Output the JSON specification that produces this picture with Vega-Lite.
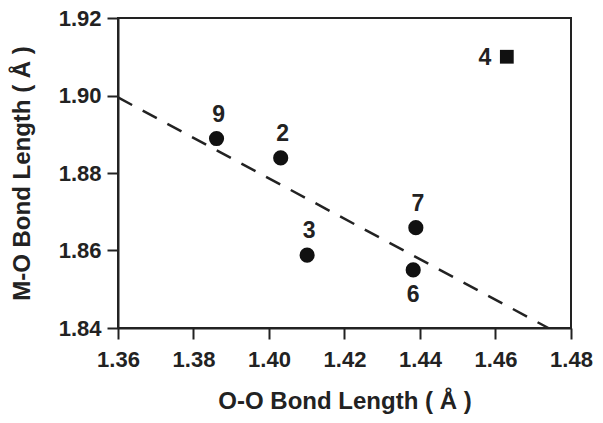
{
  "$schema": "https://vega.github.io/schema/vega-lite/v6.json",
  "autosize": "none",
  "width": 453,
  "height": 310,
  "padding": {"left": 118, "top": 18, "right": 32, "bottom": 95},
  "background": "white",
  "config": {
    "view": {"stroke": "#222", "strokeWidth": 2},
    "font": "Liberation Sans",
    "axis": {
      "domainColor": "#222", "domainWidth": 2,
      "tickColor": "#222", "tickWidth": 2, "tickSize": 11,
      "labelFont": "Liberation Sans", "labelFontWeight": "bold", "labelFontSize": 22, "labelColor": "#222",
      "labelFlush": false, "labelOverlap": false,
      "titleFont": "Liberation Sans", "titleFontWeight": "bold", "titleFontSize": 24, "titleColor": "#222",
      "grid": false
    }
  },
  "datasets": {
    "points": [
      {"label": "9", "oo": 1.3861, "mo": 1.8889, "kind": "circle", "pos": "above"},
      {"label": "2", "oo": 1.4031, "mo": 1.8839, "kind": "circle", "pos": "above"},
      {"label": "3", "oo": 1.4101, "mo": 1.8588, "kind": "circle", "pos": "above"},
      {"label": "7", "oo": 1.4389, "mo": 1.8659, "kind": "circle", "pos": "above"},
      {"label": "6", "oo": 1.4382, "mo": 1.8550, "kind": "circle", "pos": "below"},
      {"label": "4", "oo": 1.4630, "mo": 1.9100, "kind": "square", "pos": "left"}
    ],
    "fit": [
      {"oo": 1.36, "mo": 1.8995},
      {"oo": 1.4740, "mo": 1.84}
    ]
  },
  "layer": [
    {
      "data": {"name": "fit"},
      "mark": {"type": "line", "color": "#222", "strokeWidth": 2.5, "strokeDash": [16, 12]},
      "encoding": {
        "x": {"field": "oo", "type": "quantitative", "scale": {"domain": [1.36, 1.48], "nice": false, "zero": false},
              "axis": {"values": [1.36, 1.38, 1.40, 1.42, 1.44, 1.46, 1.48], "format": ".2f", "title": "O-O Bond Length ( Å )", "labelPadding": 10, "titlePadding": 19}},
        "y": {"field": "mo", "type": "quantitative", "scale": {"domain": [1.84, 1.92], "nice": false, "zero": false},
              "axis": {"values": [1.84, 1.86, 1.88, 1.90, 1.92], "format": ".2f", "title": "M-O Bond Length ( Å )", "labelPadding": 6, "titlePadding": 24}}
      }
    },
    {
      "data": {"name": "points"},
      "transform": [{"filter": "datum.kind === 'circle'"}],
      "mark": {"type": "point", "shape": "circle", "filled": true, "color": "#111", "opacity": 1, "size": 230},
      "encoding": {
        "x": {"field": "oo", "type": "quantitative"},
        "y": {"field": "mo", "type": "quantitative"}
      }
    },
    {
      "data": {"name": "points"},
      "transform": [{"filter": "datum.kind === 'square'"}],
      "mark": {"type": "point", "shape": "square", "filled": true, "color": "#111", "opacity": 1, "size": 190},
      "encoding": {
        "x": {"field": "oo", "type": "quantitative"},
        "y": {"field": "mo", "type": "quantitative"}
      }
    },
    {
      "data": {"name": "points"},
      "transform": [{"filter": "datum.pos === 'above'"}],
      "mark": {"type": "text", "fontSize": 23, "fontWeight": "bold", "color": "#222", "dy": -24, "dx": 2},
      "encoding": {
        "x": {"field": "oo", "type": "quantitative"},
        "y": {"field": "mo", "type": "quantitative"},
        "text": {"field": "label"}
      }
    },
    {
      "data": {"name": "points"},
      "transform": [{"filter": "datum.pos === 'below'"}],
      "mark": {"type": "text", "fontSize": 23, "fontWeight": "bold", "color": "#222", "dy": 25, "dx": 0},
      "encoding": {
        "x": {"field": "oo", "type": "quantitative"},
        "y": {"field": "mo", "type": "quantitative"},
        "text": {"field": "label"}
      }
    },
    {
      "data": {"name": "points"},
      "transform": [{"filter": "datum.pos === 'left'"}],
      "mark": {"type": "text", "fontSize": 23, "fontWeight": "bold", "color": "#222", "dx": -22, "dy": 1},
      "encoding": {
        "x": {"field": "oo", "type": "quantitative"},
        "y": {"field": "mo", "type": "quantitative"},
        "text": {"field": "label"}
      }
    }
  ]
}
